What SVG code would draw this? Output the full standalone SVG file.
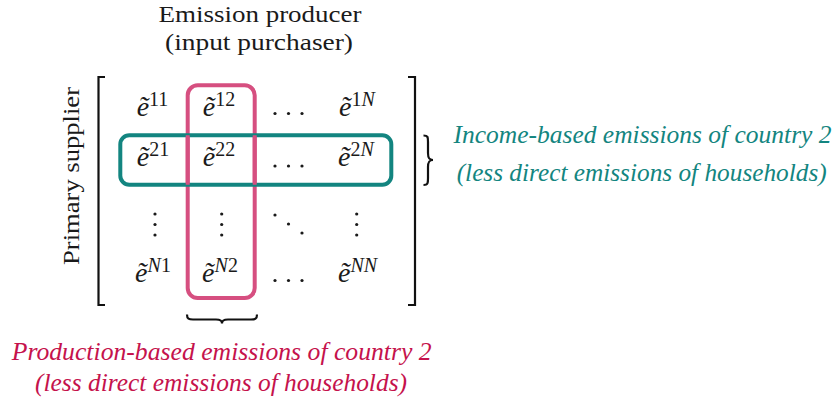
<svg xmlns="http://www.w3.org/2000/svg" width="839" height="408" viewBox="0 0 839 408">
<style>
  .t { font-family: "Liberation Serif", "DejaVu Serif", serif; fill: #1a1a1a; }
  .hdr { font-size: 24px; text-anchor: middle; }
  .el { font-size: 28px; text-anchor: middle; }
  .e { font-style: italic; }
  .sup { font-size: 20px; }
  .i { font-style: italic; }
  .teal { font-family: "Liberation Serif", "DejaVu Serif", serif; font-style: italic; font-size: 25px; fill: #138580; text-anchor: middle; }
  .pinkt { font-family: "Liberation Serif", "DejaVu Serif", serif; font-style: italic; font-size: 25px; fill: #c5124c; text-anchor: middle; }
  .br { fill: none; stroke: #111; stroke-width: 2.2; }
  .dot { fill: #1a1a1a; }
</style>

<g id="header">
  <text class="t hdr" x="260" y="22" textLength="203" lengthAdjust="spacingAndGlyphs">Emission producer</text>
  <text class="t hdr" x="259" y="50" textLength="188" lengthAdjust="spacingAndGlyphs">(input purchaser)</text>
</g>

<g id="row-label">
  <text class="t" font-size="24" text-anchor="middle" transform="translate(79,176) rotate(-90)" textLength="178" lengthAdjust="spacingAndGlyphs">Primary supplier</text>
</g>

<g id="brackets">
  <path class="br" d="M105,77 H98.5 V305 H105"/>
  <path class="br" d="M408,77 H415 V305 H408"/>
</g>

<g id="pink-column">
  <rect x="187.7" y="85.3" width="67" height="212.7" rx="10" fill="none" stroke="#d64f80" stroke-width="4"/>
</g>

<g id="teal-row">
  <rect x="120.3" y="135.3" width="271" height="49.4" rx="9" fill="none" stroke="#138580" stroke-width="4"/>
</g>
<g id="pink-column-top">
  <path d="M187.7,135.3 V184.7 M254.7,135.3 V184.7" fill="none" stroke="#d64f80" stroke-width="4"/>
</g>

<g id="matrix">
  <text class="t el" x="152.5" y="115.5"><tspan class="e">ẽ</tspan><tspan class="sup" dy="-10">11</tspan></text>
  <text class="t el" x="219" y="115.5"><tspan class="e">ẽ</tspan><tspan class="sup" dy="-10">12</tspan></text>
  <text class="t el" x="357" y="115.5"><tspan class="e">ẽ</tspan><tspan class="sup" dy="-10">1<tspan class="i">N</tspan></tspan></text>

  <text class="t el" x="153" y="165.7"><tspan class="e">ẽ</tspan><tspan class="sup" dy="-10">21</tspan></text>
  <text class="t el" x="219" y="165.7"><tspan class="e">ẽ</tspan><tspan class="sup" dy="-10">22</tspan></text>
  <text class="t el" x="356" y="165.7"><tspan class="e">ẽ</tspan><tspan class="sup" dy="-10">2<tspan class="i">N</tspan></tspan></text>

  <text class="t el" x="153" y="282.3"><tspan class="e">ẽ</tspan><tspan class="sup" dy="-10"><tspan class="i">N</tspan>1</tspan></text>
  <text class="t el" x="220" y="282.3"><tspan class="e">ẽ</tspan><tspan class="sup" dy="-10"><tspan class="i">N</tspan>2</tspan></text>
  <text class="t el" x="357.5" y="282.3"><tspan class="e">ẽ</tspan><tspan class="sup" dy="-10"><tspan class="i">NN</tspan></tspan></text>

  <!-- horizontal dots -->
  <circle class="dot" cx="275" cy="113.5" r="1.6"/><circle class="dot" cx="288.5" cy="113.5" r="1.6"/><circle class="dot" cx="302" cy="113.5" r="1.6"/>
  <circle class="dot" cx="275" cy="166" r="1.6"/><circle class="dot" cx="288.5" cy="166" r="1.6"/><circle class="dot" cx="302" cy="166" r="1.6"/>
  <circle class="dot" cx="275" cy="280.5" r="1.6"/><circle class="dot" cx="288.5" cy="280.5" r="1.6"/><circle class="dot" cx="302" cy="280.5" r="1.6"/>
  <!-- vertical dots -->
  <circle class="dot" cx="155" cy="214" r="1.6"/><circle class="dot" cx="155" cy="224.5" r="1.6"/><circle class="dot" cx="155" cy="235" r="1.6"/>
  <circle class="dot" cx="221.7" cy="214" r="1.6"/><circle class="dot" cx="221.7" cy="224.5" r="1.6"/><circle class="dot" cx="221.7" cy="235" r="1.6"/>
  <circle class="dot" cx="356.7" cy="214" r="1.6"/><circle class="dot" cx="356.7" cy="224.5" r="1.6"/><circle class="dot" cx="356.7" cy="235" r="1.6"/>
  <!-- diagonal dots -->
  <circle class="dot" cx="275" cy="215" r="1.6"/><circle class="dot" cx="288.5" cy="224" r="1.6"/><circle class="dot" cx="302" cy="233" r="1.6"/>
</g>

<g id="connectors">
  <path class="br" stroke-width="2" d="M423.5,135.5 C428,135.5 428,137 428,142 V153 C428,158 429,160 433,160 C429,160 428,162 428,167 V178 C428,183 428,185 423.5,185"/>
  <path class="br" stroke-width="2" d="M187,314.5 C187,319 189,319.5 193,319.5 H216 C220,319.5 222,320 222,323.5 C222,320 224,319.5 228,319.5 H251 C255,319.5 257,319 257,314.5"/>
</g>

<g id="income-label">
  <text class="teal" x="642.5" y="143.3" textLength="378" lengthAdjust="spacingAndGlyphs">Income-based emissions of country 2</text>
  <text class="teal" x="641.7" y="181" textLength="370" lengthAdjust="spacingAndGlyphs">(less direct emissions of households)</text>
</g>

<g id="production-label">
  <text class="pinkt" x="221.7" y="359.5" textLength="420" lengthAdjust="spacingAndGlyphs">Production-based emissions of country 2</text>
  <text class="pinkt" x="221" y="391" textLength="372" lengthAdjust="spacingAndGlyphs">(less direct emissions of households)</text>
</g>
</svg>
